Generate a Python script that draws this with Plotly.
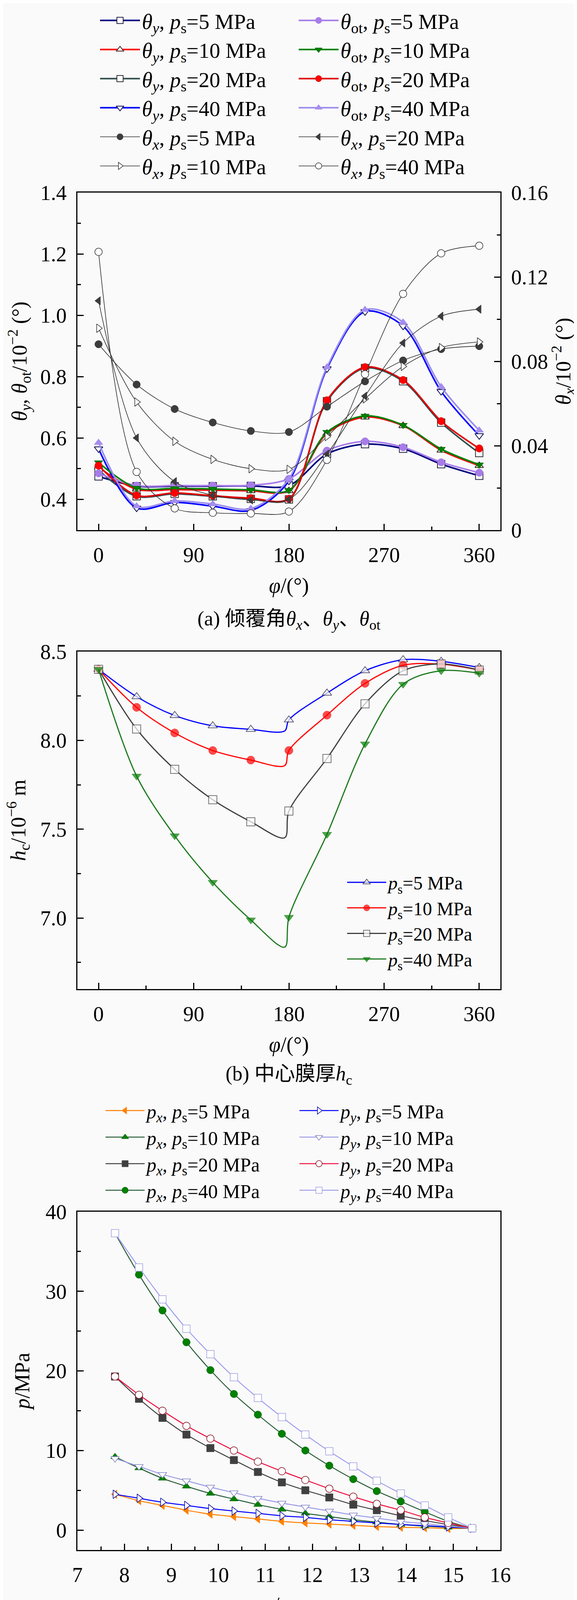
import plotly.graph_objects as go

W, H = 1476, 5620
FONT = "Liberation Serif, Noto Sans CJK SC, serif"
BG = "#fafafa"

# ---------------- data: panel (a) ----------------
PHI = [0, 36, 72, 108, 144, 180, 216, 252, 288, 324, 360]
theta_y_5 = [0.475, 0.443, 0.443, 0.443, 0.444, 0.445, 0.548, 0.580, 0.565, 0.515, 0.477]
theta_y_10 = [0.505, 0.433, 0.432, 0.430, 0.428, 0.428, 0.615, 0.668, 0.640, 0.560, 0.510]
theta_y_20 = [0.495, 0.410, 0.418, 0.410, 0.402, 0.400, 0.720, 0.828, 0.785, 0.650, 0.551]
theta_y_40 = [0.565, 0.372, 0.390, 0.378, 0.364, 0.460, 0.826, 1.012, 0.965, 0.752, 0.608]
theta_ot_5 = [0.485, 0.445, 0.445, 0.445, 0.446, 0.467, 0.559, 0.589, 0.570, 0.521, 0.487]
theta_ot_10 = [0.520, 0.437, 0.436, 0.434, 0.431, 0.430, 0.619, 0.672, 0.642, 0.564, 0.513]
theta_ot_20 = [0.510, 0.413, 0.421, 0.412, 0.404, 0.402, 0.723, 0.831, 0.789, 0.655, 0.566]
theta_ot_40 = [0.585, 0.378, 0.395, 0.385, 0.370, 0.467, 0.831, 1.018, 0.977, 0.767, 0.625]
theta_x_5 = [0.0881, 0.0690, 0.0574, 0.0510, 0.0470, 0.0465, 0.0585, 0.0705, 0.0804, 0.0858, 0.0872]
theta_x_10 = [0.0957, 0.0607, 0.0421, 0.0335, 0.0291, 0.0288, 0.0443, 0.0622, 0.0776, 0.0865, 0.0892]
theta_x_20 = [0.1087, 0.0437, 0.0230, 0.0165, 0.0143, 0.0146, 0.0360, 0.0635, 0.0887, 0.1014, 0.1047]
theta_x_40 = [0.1319, 0.0276, 0.0103, 0.0082, 0.0079, 0.0088, 0.0333, 0.0739, 0.1120, 0.1312, 0.1348]

# ---------------- data: panel (b) ----------------
PHI_B = [0, 36, 72, 108, 144, 176, 180, 216, 252, 288, 324, 360]
hc_5 = [8.40, 8.246, 8.140, 8.082, 8.062, 8.053, 8.115, 8.266, 8.392, 8.454, 8.445, 8.410]
hc_10 = [8.40, 8.186, 8.042, 7.943, 7.889, 7.858, 7.943, 8.142, 8.321, 8.423, 8.429, 8.396]
hc_20 = [8.40, 8.064, 7.837, 7.666, 7.542, 7.452, 7.602, 7.898, 8.206, 8.392, 8.430, 8.396]
hc_40 = [8.40, 7.799, 7.463, 7.201, 6.989, 6.836, 7.004, 7.471, 7.980, 8.316, 8.392, 8.378]

# ---------------- data: panel (c) ----------------
R = [7.80, 8.31, 8.81, 9.32, 9.83, 10.33, 10.84, 11.35, 11.85, 12.36, 12.87, 13.37, 13.88, 14.39, 14.89, 15.40]
px_5_c = [4.5, 3.7, 3.1, 2.5, 2.0, 1.7, 1.4, 1.1, 0.9, 0.75, 0.6, 0.45, 0.35, 0.3, 0.2, 0.23]
px_10_c = [9.2, 7.8, 6.5, 5.5, 4.6, 3.9, 3.2, 2.6, 2.1, 1.7, 1.3, 1.0, 0.7, 0.5, 0.35, 0.23]
px_20_c = [19.3, 16.5, 14.1, 12.0, 10.3, 8.8, 7.3, 6.0, 5.0, 4.1, 3.2, 2.5, 1.8, 1.2, 0.7, 0.23]
px_40_c = [37.3, 32.1, 27.6, 23.6, 20.1, 17.1, 14.5, 12.1, 10.0, 8.1, 6.4, 4.9, 3.6, 2.3, 1.1, 0.23]
py_5_c = [4.5, 4.0, 3.5, 3.1, 2.7, 2.4, 2.1, 1.8, 1.6, 1.3, 1.1, 0.9, 0.7, 0.55, 0.4, 0.23]
py_10_c = [9.0, 8.0, 7.0, 6.2, 5.4, 4.7, 4.0, 3.4, 2.9, 2.4, 1.9, 1.5, 1.1, 0.8, 0.5, 0.23]
py_20_c = [19.3, 17.0, 15.0, 13.1, 11.5, 10.0, 8.6, 7.4, 6.3, 5.2, 4.2, 3.3, 2.5, 1.6, 0.9, 0.23]
py_40_c = [37.3, 33.0, 29.0, 25.3, 22.1, 19.2, 16.6, 14.2, 12.0, 9.9, 8.0, 6.2, 4.6, 3.1, 1.6, 0.23]

# ---------------- data: panel (d) ----------------
px_5_d = [0.2, 0.04, -0.08, -0.165, -0.22, -0.25, -0.255, -0.245, -0.225, -0.18, -0.13, -0.065, 0.01, 0.095, 0.195, 0.3]
px_10_d = [0.2, 0.015, -0.12, -0.21, -0.27, -0.305, -0.315, -0.305, -0.275, -0.23, -0.175, -0.10, -0.015, 0.08, 0.17, 0.3]
px_20_d = [0.2, -0.03, -0.2, -0.315, -0.39, -0.43, -0.44, -0.425, -0.39, -0.335, -0.26, -0.175, -0.075, 0.04, 0.165, 0.3]
px_40_d = [0.2, -0.10, -0.32, -0.465, -0.555, -0.60, -0.61, -0.595, -0.55, -0.48, -0.39, -0.28, -0.155, -0.015, 0.135, 0.3]
py_5_d = [0.2, 0.19, 0.187, 0.187, 0.188, 0.19, 0.197, 0.203, 0.21, 0.22, 0.232, 0.245, 0.257, 0.27, 0.284, 0.3]
py_10_d = [0.2, 0.178, 0.16, 0.155, 0.15, 0.15, 0.152, 0.158, 0.166, 0.18, 0.198, 0.215, 0.235, 0.255, 0.275, 0.3]
py_20_d = [0.2, 0.145, 0.11, 0.08, 0.065, 0.057, 0.057, 0.063, 0.077, 0.097, 0.12, 0.148, 0.18, 0.216, 0.26, 0.3]
py_40_d = [0.2, 0.093, 0.012, -0.048, -0.088, -0.11, -0.115, -0.11, -0.09, -0.06, -0.02, 0.03, 0.088, 0.15, 0.22, 0.3]

# ---------------- labels ----------------
TY = "<i>θ</i><sub><i>y</i></sub>, <i>p</i><sub>s</sub>={} MPa"
TOT = "<i>θ</i><sub>ot</sub>, <i>p</i><sub>s</sub>={} MPa"
TX = "<i>θ</i><sub><i>x</i></sub>, <i>p</i><sub>s</sub>={} MPa"
PS = "<i>p</i><sub>s</sub>={} MPa"
PX = "<i>p</i><sub><i>x</i></sub>, <i>p</i><sub>s</sub>={} MPa"
PY = "<i>p</i><sub><i>y</i></sub>, <i>p</i><sub>s</sub>={} MPa"


def yp(y):
    return 1 - y / H


def xp(x):
    return x / W


fig = go.Figure()


def add(xs, ys, name, xa, ya, legend, lcolor, lw, symbol, fill, edge, size, ew=2.0):
    fig.add_trace(go.Scatter(
        x=xs, y=ys, name=name, xaxis=xa, yaxis=ya, legend=legend,
        mode="lines+markers",
        line=dict(color=lcolor, width=lw, shape="spline", smoothing=0.9),
        marker=dict(symbol=symbol, size=size, color=fill, line=dict(color=edge, width=ew)),
    ))


WHITE = "#ffffff"
# ---- panel (a) ----
MA = 19
add(PHI, theta_y_5, TY.format(5), "x", "y", "legend", "#000080", 4, "square", WHITE, "#202040", MA)
add(PHI, theta_y_10, TY.format(10), "x", "y", "legend", "#ff0000", 4, "triangle-up", WHITE, "#402020", MA)
add(PHI, theta_y_20, TY.format(20), "x", "y", "legend", "#2f4f4f", 4, "square", WHITE, "#303030", MA)
add(PHI, theta_y_40, TY.format(40), "x", "y", "legend", "#0000ff", 4, "triangle-down", WHITE, "#101050", MA)
add(PHI, theta_ot_5, TOT.format(5), "x", "y", "legend2", "#a77ce9", 4, "circle", "#a77ce9", "#a77ce9", MA, 1)
add(PHI, theta_ot_10, TOT.format(10), "x", "y", "legend2", "#008000", 4, "triangle-down", "#008000", "#006000", MA, 1)
add(PHI, theta_ot_20, TOT.format(20), "x", "y", "legend2", "#e00000", 4, "circle", "#ff0000", "#d00000", MA, 1)
add(PHI, theta_ot_40, TOT.format(40), "x", "y", "legend2", "#9b8ded", 4, "triangle-up", "#a88cf0", "#9b8ded", MA, 1)
add(PHI, theta_x_5, TX.format(5), "x", "y2", "legend", "#303030", 1.6, "circle", "#3c3c3c", "#3c3c3c", MA, 1)
add(PHI, theta_x_10, TX.format(10), "x", "y2", "legend", "#303030", 1.6, "triangle-right", WHITE, "#303030", MA, 1.5)
add(PHI, theta_x_20, TX.format(20), "x", "y2", "legend2", "#303030", 1.6, "triangle-left", "#3c3c3c", "#3c3c3c", MA, 1)
add(PHI, theta_x_40, TX.format(40), "x", "y2", "legend2", "#303030", 1.6, "circle", WHITE, "#303030", MA, 1.5)

# ---- panel (b) ----
MB = [21 if p % 36 == 0 else 0 for p in PHI_B]
add(PHI_B, hc_5, PS.format(5), "x2", "y3", "legend3", "#0000ff", 3, "triangle-up", WHITE, "#202040", MB)
add(PHI_B, hc_10, PS.format(10), "x2", "y3", "legend3", "#ff0000", 3, "circle", "#ff0000", "#e00000", MB, 1)
add(PHI_B, hc_20, PS.format(20), "x2", "y3", "legend3", "#404040", 3, "square", WHITE, "#404040", MB)
add(PHI_B, hc_40, PS.format(40), "x2", "y3", "legend3", "#1f7a1f", 3, "triangle-down", "#008000", "#006000", MB, 1)

# ---- panel (c) ----
MC = 19
add(R, px_5_c, PX.format(5), "x3", "y4", "legend4", "#ff8000", 2.5, "triangle-left", "#ff8000", "#ff8000", MC, 1)
add(R, px_10_c, PX.format(10), "x3", "y4", "legend4", "#2a5e3a", 2.5, "triangle-up", "#008000", "#006000", MC, 1)
add(R, px_20_c, PX.format(20), "x3", "y4", "legend4", "#404040", 2.5, "square", "#404040", "#404040", MC, 1)
add(R, px_40_c, PX.format(40), "x3", "y4", "legend4", "#2a5e3a", 2.5, "circle", "#008000", "#006000", MC, 1)
add(R, py_5_c, PY.format(5), "x3", "y4", "legend5", "#0000ff", 2.5, "triangle-right", WHITE, "#0000a0", MC, 1.5)
add(R, py_10_c, PY.format(10), "x3", "y4", "legend5", "#9c9cea", 2.5, "triangle-down", WHITE, "#8080c0", MC, 1.5)
add(R, py_20_c, PY.format(20), "x3", "y4", "legend5", "#ee1040", 2.5, "circle", WHITE, "#801020", MC, 1.5)
add(R, py_40_c, PY.format(40), "x3", "y4", "legend5", "#a0a0ee", 2.5, "square", WHITE, "#a0a0e0", MC, 1.5)

# ---- panel (d) ----
MD = 19
add(R, px_5_d, PX.format(5), "x4", "y5", "legend6", "#ff0000", 2.5, "triangle-left", "#ff0000", "#d00000", MD, 1)
add(R, px_10_d, PX.format(10), "x4", "y5", "legend6", "#1f5a2a", 2.5, "triangle-up", "#008000", "#006000", MD, 1)
add(R, px_20_d, PX.format(20), "x4", "y5", "legend6", "#303030", 2.5, "square", "#404040", "#404040", MD, 1)
add(R, px_40_d, PX.format(40), "x4", "y5", "legend6", "#a590ec", 2.5, "circle", "#a590ec", "#a590ec", MD, 1)
add(R, py_5_d, PY.format(5), "x4", "y5", "legend7", "#a8a8f4", 2.5, "triangle-right", WHITE, "#9090e0", MD, 1.5)
add(R, py_10_d, PY.format(10), "x4", "y5", "legend7", "#000080", 2.5, "triangle-down", WHITE, "#000060", MD, 1.5)
add(R, py_20_d, PY.format(20), "x4", "y5", "legend7", "#e0103a", 2.5, "circle", WHITE, "#701020", MD, 1.5)
add(R, py_40_d, PY.format(40), "x4", "y5", "legend7", "#000080", 2.5, "square", WHITE, "#000060", MD, 1.5)

# ---------------- axes ----------------
TICKF = dict(family=FONT, size=54, color="black")
TITF = dict(family=FONT, size=54, color="black")


def ax(**kw):
    d = dict(showline=True, linecolor="black", linewidth=2.5, ticks="inside", ticklen=16,
             tickwidth=2.5, tickcolor="black", tickfont=TICKF, showgrid=False, zeroline=False,
             minor=dict(ticks="inside", ticklen=9, tickwidth=2.5, tickcolor="black", showgrid=False),
             ticklabelstandoff=14, automargin=False)
    minor = kw.pop("minor_dtick", None)
    if minor is not None:
        d["minor"]["dtick"] = minor
    d.update(kw)
    return d


XD = [xp(190), xp(1272)]
PHI_TITLE = "<i>φ</i>/(°)"
R_TITLE = "<i>r</i>/mm"

layout = dict(
    width=W, height=H, autosize=False,
    margin=dict(l=0, r=0, t=0, b=0, pad=0),
    paper_bgcolor=BG, plot_bgcolor=BG,
    font=dict(family=FONT, size=54, color="black"),
    showlegend=True,
    # panel (a)
    xaxis=ax(domain=XD, anchor="y", range=[-20, 380], tick0=0, dtick=90, minor_dtick=45, mirror=True,
             title=dict(text=PHI_TITLE, font=TITF, standoff=30)),
    yaxis=ax(domain=[yp(1349), yp(485)], anchor="x", range=[0.3, 1.4], tick0=0.4, dtick=0.2,
             tickformat=".1f", minor_dtick=0.1,
             title=dict(text="<i>θ</i><sub><i>y</i></sub>, <i>θ</i><sub>ot</sub>/10<sup>−2</sup> (°)",
                        font=TITF, standoff=18)),
    yaxis2=ax(overlaying="y", side="right", anchor="x", range=[0, 0.16], tick0=0, dtick=0.04,
              minor_dtick=0.02,
              title=dict(text="<i>θ</i><sub><i>x</i></sub>/10<sup>−2</sup> (°)", font=TITF, standoff=20)),
    # panel (b)
    xaxis2=ax(domain=XD, anchor="y3", range=[-20, 380], tick0=0, dtick=90, minor_dtick=45, mirror=True,
              title=dict(text=PHI_TITLE, font=TITF, standoff=30)),
    yaxis3=ax(domain=[yp(2524), yp(1660)], anchor="x2", range=[6.6, 8.5], tick0=7.0, dtick=0.5,
              tickformat=".1f", minor_dtick=0.25, mirror=True,
              title=dict(text="<i>h</i><sub>c</sub>/10<sup>−6</sup> m", font=TITF, standoff=28)),
    # panel (c)
    xaxis3=ax(domain=XD, anchor="y4", range=[7, 16], tick0=7, dtick=1, minor_dtick=0.5, mirror=True,
              title=dict(text=R_TITLE, font=TITF, standoff=28)),
    yaxis4=ax(domain=[yp(3960), yp(3094)], anchor="x3", range=[-2.5, 40], tick0=0, dtick=10,
              minor_dtick=5, mirror=True,
              title=dict(text="<i>p</i>/MPa", font=TITF, standoff=24)),
    # panel (d)
    xaxis4=ax(domain=XD, anchor="y5", range=[7, 16], tick0=7, dtick=1, minor_dtick=0.5, mirror=True,
              title=dict(text=R_TITLE, font=TITF, standoff=28)),
    yaxis5=ax(domain=[yp(5377), yp(4510)], anchor="x4", range=[-0.7, 0.6], tick0=0, dtick=0.2,
              minor_dtick=0.1, mirror=True,
              title=dict(text="<i>p</i>/MPa", font=TITF, standoff=10)),
)


def leg(x, ytop, size, iw=100):
    return dict(x=xp(x), y=yp(ytop), xanchor="left", yanchor="top", orientation="v",
                bgcolor="rgba(0,0,0,0)", borderwidth=0, tracegroupgap=0, traceorder="normal",
                itemwidth=iw, font=dict(family=FONT, size=size, color="black"))


layout["legend"] = leg(243, 2, 55, 102)
layout["legend2"] = leg(751, 2, 55, 102)
layout["legend3"] = leg(875, 2213, 48, 100)
layout["legend4"] = leg(257, 2796, 50, 100)
layout["legend5"] = leg(753, 2796, 50, 100)
layout["legend6"] = leg(257, 4226, 47, 100)
layout["legend7"] = leg(756, 4226, 47, 100)

CAPF = dict(family=FONT, size=52, color="black")
captions = [
    ("(a) 倾覆角<i>θ</i><sub><i>x</i></sub>、<i>θ</i><sub><i>y</i></sub>、<i>θ</i><sub>ot</sub>", 1579),
    ("(b) 中心膜厚<i>h</i><sub>c</sub>", 2744),
    ("(c) 高压区油膜压力场 (<i>φ</i>=90°)", 4167),
    ("(d) 低压区油膜压力场 (<i>φ</i>=270°)", 5582),
]
layout["annotations"] = [
    dict(text=t, x=xp(731), y=yp(yc), xref="paper", yref="paper", xanchor="center", yanchor="middle",
         showarrow=False, font=CAPF)
    for t, yc in captions
]

fig.update_layout(**layout)
fig.write_html("out.html")
